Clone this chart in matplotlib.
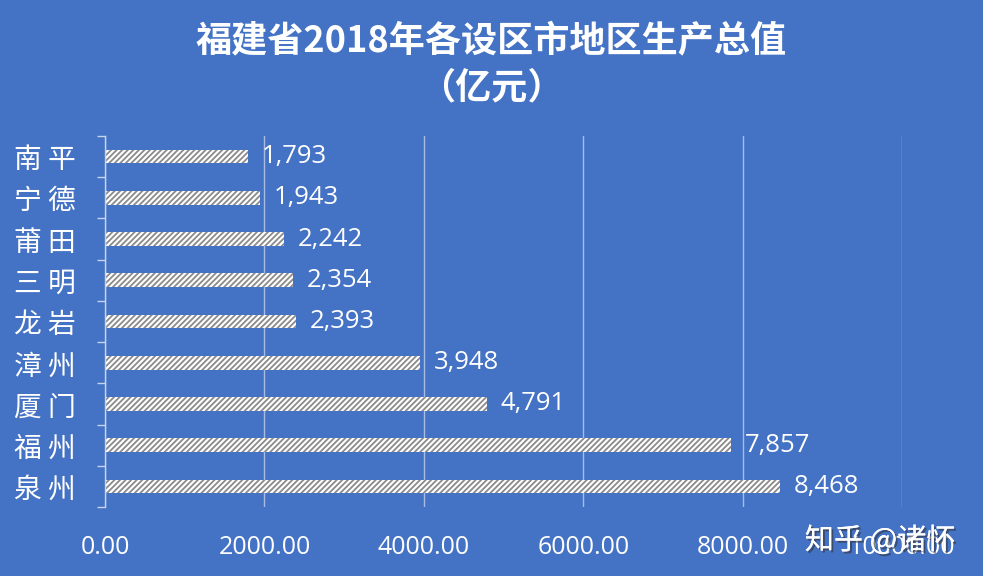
import matplotlib.pyplot as plt
import matplotlib.patheffects as pe

plt.rcParams['font.family'] = ['Noto Sans CJK SC', 'DejaVu Sans']
plt.rcParams['hatch.linewidth'] = 1.3

# data (top to bottom in the chart)
cities = ["南平", "宁德", "莆田", "三明", "龙岩", "漳州", "厦门", "福州", "泉州"]
gdp = [1793, 1943, 2242, 2354, 2393, 3948, 4791, 7857, 8468]
xticks = [0, 2000, 4000, 6000, 8000, 10000]

bg = "#4472C4"

fig = plt.figure(figsize=(9.83, 5.76), dpi=100, facecolor=bg)
ax = fig.add_axes([105 / 983, 1 - 507 / 576, 797 / 983, 371 / 576], facecolor=bg)

ypos = list(range(len(cities)))[::-1]
ax.barh(ypos, gdp, height=0.33, color="white", edgecolor="#8a8a8a",
        hatch="//////", linewidth=0)
ax.set_ylim(-0.5, len(cities) - 0.5)
ax.set_xlim(0, 10000)

for y, v in zip(ypos, gdp):
    ax.annotate(f"{v:,}", (v, y), xytext=(10, 0), textcoords="offset points",
                ha="left", va="center", color="white", fontsize=18.5,
                family=["Open Sans", "DejaVu Sans"])

ax.set_yticks(ypos)
ax.set_yticklabels([" ".join(c) for c in cities], fontsize=20, color="white")
ax.tick_params(axis="y", length=0, pad=21)
# minor ticks at category boundaries on the left axis
ax.set_yticks([i - 0.5 for i in range(len(cities) + 1)], minor=True)
ax.tick_params(axis="y", which="minor", length=6, color="#c8d4ee", width=1)

ax.set_xticks(xticks)
ax.set_xticklabels([f"{t:.2f}" for t in xticks], fontsize=18, color="white",
                   family=["Open Sans", "DejaVu Sans"])
ax.tick_params(axis="x", length=0, pad=20)
ax.grid(axis="x", color="#a7bbe3", linewidth=1)
ax.set_axisbelow(True)

for s in ["top", "right", "bottom"]:
    ax.spines[s].set_visible(False)
ax.spines["left"].set_color("#c8d4ee")
ax.spines["left"].set_linewidth(1)

fig.text(0.5, 1 - 42 / 576, "福建省2018年各设区市地区生产总值", ha="center", va="center",
         color="white", fontsize=26, fontweight="bold")
fig.text(0.5, 1 - 88 / 576, "（亿元）", ha="center", va="center",
         color="white", fontsize=26, fontweight="bold")

fig.text(880 / 983, 1 - 541 / 576, "知乎 @诸怀", ha="center", va="center",
         color="white", fontsize=21,
         path_effects=[pe.withSimplePatchShadow(offset=(1.5, -1.5), shadow_rgbFace="#333333", alpha=0.6),
                       pe.Normal()])

fig.savefig("out.png", dpi=100, facecolor=bg)
